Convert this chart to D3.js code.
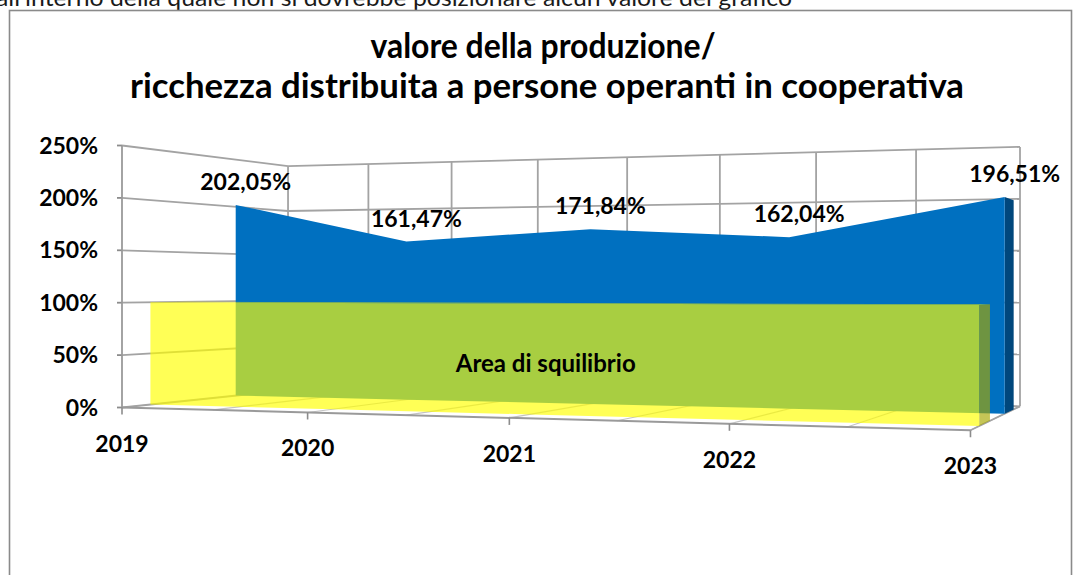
<!DOCTYPE html>
<html lang="it">
<head>
<meta charset="UTF-8">
<title>valore della produzione / ricchezza distribuita</title>
<script src="https://cdn.jsdelivr.net/npm/d3@7/dist/d3.min.js"></script>
<style>
*{margin:0;padding:0}
body{background:#fff;width:1074px;height:575px;overflow:hidden}
svg{display:block;font-family:Lato,'Open Sans',sans-serif}
</style>
</head>
<body>
<svg id="chart" width="1074" height="575"></svg>
<script>
// data
const years = ["2019", "2020", "2021", "2022", "2023"];
const rapporto = [202.05, 161.47, 171.84, 162.04, 196.51];
const squilibrio = [100, 100, 100, 100, 100];
const yTicks = [0, 50, 100, 150, 200, 250];
const series = ["squilibrio", "rapporto"];

const svg = d3.select("#chart");
const fmt = d3.formatLocale({decimal: ",", thousands: ".", grouping: [3], currency: ["", "€"]}).format(".2f");

// scales: category -> world X, value -> world height, series -> depth row
const xS = d3.scalePoint().domain(years).range([0, 4]);
const yS = d3.scaleLinear().domain([0, 250]).range([0, 262]);
const zS = d3.scaleBand().domain(series).range([0, 1]).paddingInner(0.6).paddingOuter(0.3);

// perspective camera (turned so the right side is nearer, eye at ~114%)
const cam = {a: 173.3, b: 215, c: 122, g: -0.04, h: 0.17, horizon: 288, eye: 119.5};
function P(X, Y, Z) {
  const w = 1 + cam.g * X + cam.h * Z;
  return [(cam.a * X + cam.b * Z + cam.c) / w, cam.horizon + (cam.eye - Y) / w];
}
const poly = pts => "M" + pts.map(p => p.join(",")).join("L") + "Z";
const seg = (g, p, q, col, sw) => g.append("line").attr("x1", p[0]).attr("y1", p[1]).attr("x2", q[0]).attr("y2", q[1])
  .attr("stroke", col).attr("stroke-width", sw);

// text cut by the top edge (from the surrounding document)
svg.append("text").attr("x", -4).attr("y", 6).attr("font-size", 24).attr("fill", "#1a1a1a")
  .attr("textLength", 796).attr("lengthAdjust", "spacingAndGlyphs")
  .text("all'interno della quale non si dovrebbe posizionare alcun valore del grafico");

// chart frame
svg.append("rect").attr("x", 9.5).attr("y", 10.5).attr("width", 1062).attr("height", 620)
  .attr("fill", "#fff").attr("stroke", "#8a8a8a").attr("stroke-width", 1.6);

// title
const title = svg.append("g").attr("font-weight", 700).attr("font-size", 34.5).attr("text-anchor", "middle").attr("fill", "#000");
title.append("text").attr("x", 543).attr("y", 58).attr("textLength", 345).attr("lengthAdjust", "spacingAndGlyphs")
  .text("valore della produzione/");
title.append("text").attr("x", 547).attr("y", 98).attr("textLength", 834).attr("lengthAdjust", "spacingAndGlyphs")
  .text("ricchezza distribuita a persone operanti in cooperativa");

// walls and floor
const grid = svg.append("g");
const yTop = yS(250), gc = "#a3a3a3";
grid.append("path").attr("d", poly([P(0, 0, 1), P(0, yTop, 1), P(4, yTop, 1), P(4, 0, 1)])).attr("fill", "#fff");
const xGrid = d3.range(0, 4.001, 0.5);
xGrid.forEach(X => seg(grid, P(X, 0, 0), P(X, 0, 1), "#c4c4c4", 1.2));
xGrid.forEach(X => seg(grid, P(X, 0, 1), P(X, yTop, 1), gc, 1.8));
yTicks.forEach(t => {
  seg(grid, P(0, yS(t), 0), P(0, yS(t), 1), gc, 1.8);
  seg(grid, P(0, yS(t), 1), P(4, yS(t), 1), gc, 1.8);
  const f = P(0, yS(t), 0);
  seg(grid, [f[0] - 5, f[1]], f, "#8c8c8c", 1.8);
});
seg(grid, P(4, 0, 0), P(4, 0, 1), gc, 1.8);

// back series: rapporto (blue slab)
const zb0 = zS("rapporto"), zb1 = zS("rapporto") + zS.bandwidth();
const bl = rapporto.length - 1, X4 = xS(years[bl]);
svg.append("path").attr("fill", "#00477c")
  .attr("d", poly([P(X4, 0, zb0), P(X4, yS(rapporto[bl]), zb0), P(X4, yS(rapporto[bl]), zb1), P(X4, 0, zb1)]));
const areaAt = z => d3.area()
  .x((d, i) => P(xS(years[i]), 0, z)[0])
  .y0((d, i) => P(xS(years[i]), 0, z)[1])
  .y1((d, i) => P(xS(years[i]), yS(d), z)[1]);
svg.append("path").datum(rapporto).attr("fill", "#0070c0").attr("d", areaAt(zb0));

// front series: area di squilibrio (translucent yellow slab)
const zy0 = zS("squilibrio"), zy1 = zS("squilibrio") + zS.bandwidth();
const yl = squilibrio.length - 1;
const yg = svg.append("g").attr("opacity", 0.66);
yg.append("path").attr("fill", "#a8a800")
  .attr("d", poly([P(X4, 0, zy0), P(X4, yS(squilibrio[yl]), zy0), P(X4, yS(squilibrio[yl]), zy1), P(X4, 0, zy1)]));
yg.append("path").attr("fill", "#e8e800")
  .attr("d", poly([P(0, yS(squilibrio[0]), zy0), P(X4, yS(squilibrio[yl]), zy0), P(X4, yS(squilibrio[yl]), zy1), P(0, yS(squilibrio[0]), zy1)]));
yg.append("path").datum(squilibrio).attr("fill", "#ffff00").attr("d", areaAt(zy0));

// front axis line, category ticks
seg(svg, P(0, 0, 0), P(4, 0, 0), "#9a9a9a", 2);
seg(svg, P(0, 0, 0), P(0, yTop, 0), "#9a9a9a", 1.8);
years.forEach(y => {
  const p = P(xS(y), 0, 0);
  seg(svg, p, [p[0], p[1] + 7], "#8c8c8c", 1.6);
});

// labels
const lab = svg.append("g").attr("font-weight", 700).attr("fill", "#000");
yTicks.forEach(t => {
  const p = P(0, yS(t), 0);
  lab.append("text").attr("x", 98).attr("y", p[1] + 8).attr("font-size", 23).attr("text-anchor", "end").text(t + "%");
});
years.forEach(y => {
  const p = P(xS(y), 0, 0);
  lab.append("text").attr("x", p[0]).attr("y", p[1] + 44).attr("font-size", 23).attr("text-anchor", "middle").text(y);
});
rapporto.forEach((v, i) => {
  const p = P(xS(years[i]), yS(v), zb0);
  lab.append("text").attr("x", p[0] + 10).attr("y", p[1] - 15).attr("font-size", 23).attr("text-anchor", "middle").text(fmt(v) + "%");
});
const pa = P(xS(years[2]), yS(45), zy0);
lab.append("text").attr("x", pa[0] + 16).attr("y", pa[1] + 7).attr("font-size", 24).attr("text-anchor", "middle").text("Area di squilibrio");
</script>
</body>
</html>
